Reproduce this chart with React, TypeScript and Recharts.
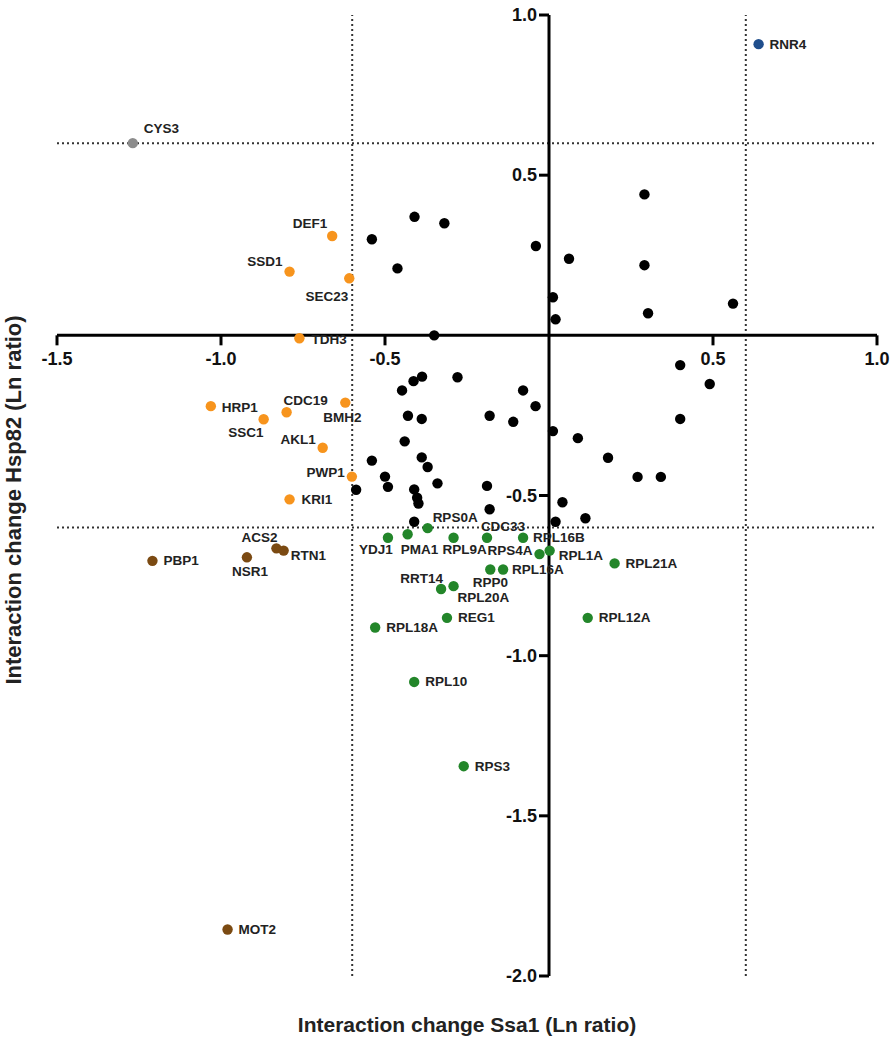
import { ScatterChart, Scatter, XAxis, YAxis, ReferenceLine, ReferenceDot } from 'recharts';

// unlabeled hits (black)
const blackX = [
  -0.54, -0.41, -0.319, -0.462, -0.04, 0.061, 0.012, 0.02, -0.35, -0.387, -0.413, -0.279, -0.448, -0.079,
  -0.041, -0.43, -0.388, -0.181, -0.109, 0.012, 0.088, -0.44, -0.388, -0.54, -0.37, -0.5, -0.491, -0.588,
  -0.34, -0.411, -0.402, -0.398, -0.189, -0.181, -0.411, 0.02, 0.041, 0.291, 0.291, 0.302, 0.561, 0.18,
  0.27, 0.341, 0.4, 0.49, 0.4, 0.111,
];
const blackY = [
  0.3, 0.37, 0.35, 0.209, 0.279, 0.239, 0.119, 0.05, 0.0, -0.129, -0.143, -0.131, -0.172, -0.172,
  -0.221, -0.251, -0.261, -0.251, -0.27, -0.299, -0.321, -0.331, -0.381, -0.391, -0.411, -0.441, -0.473, -0.482,
  -0.462, -0.481, -0.507, -0.525, -0.47, -0.543, -0.582, -0.582, -0.521, 0.44, 0.219, 0.069, 0.099, -0.382,
  -0.442, -0.442, -0.093, -0.152, -0.261, -0.571,
];

const orangeNames = ['DEF1', 'SSD1', 'SEC23', 'TDH3', 'HRP1', 'SSC1', 'CDC19', 'BMH2', 'AKL1', 'PWP1', 'KRI1'];
const orangeX = [-0.661, -0.791, -0.609, -0.761, -1.031, -0.87, -0.8, -0.621, -0.69, -0.601, -0.791];
const orangeY = [0.31, 0.199, 0.178, -0.009, -0.221, -0.262, -0.24, -0.21, -0.351, -0.441, -0.512];

const greenNames = [
  'YDJ1', 'PMA1', 'RPS0A', 'RPL9A', 'CDC33', 'RPL16B', 'RPS4A', 'RPL1A', 'RPP0', 'RPL16A', 'RRT14',
  'RPL20A', 'REG1', 'RPL18A', 'RPL10', 'RPL21A', 'RPL12A', 'RPS3',
];
const greenX = [
  -0.491, -0.431, -0.37, -0.291, -0.189, -0.079, -0.029, 0.002, -0.179, -0.14, -0.329,
  -0.291, -0.311, -0.53, -0.411, 0.2, 0.118, -0.26,
];
const greenY = [
  -0.632, -0.621, -0.602, -0.632, -0.632, -0.632, -0.683, -0.672, -0.731, -0.731, -0.792,
  -0.783, -0.882, -0.912, -1.082, -0.712, -0.882, -1.345,
];

const brownNames = ['PBP1', 'NSR1', 'ACS2', 'RTN1', 'MOT2'];
const brownX = [-1.209, -0.921, -0.831, -0.809, -0.98];
const brownY = [-0.704, -0.693, -0.665, -0.672, -1.855];

const grayNames = ['CYS3'];
const grayX = [-1.269];
const grayY = [0.6];

const blueNames = ['RNR4'];
const blueX = [0.639];
const blueY = [0.909];

const xTicks = [-1.5, -1.0, -0.5, 0.5, 1.0];
const yTicks = [1.0, 0.5, -0.5, -1.0, -1.5, -2.0];
const cutoffs = [-0.6, 0.6];

// where each gene name sits relative to its dot: dx, dy, anchor
const labelPos: Record<string, [number, number, 'start' | 'middle' | 'end']> = {
  DEF1: [-5, -13, 'end'],
  SSD1: [-7, -10, 'end'],
  SEC23: [-1, 18, 'end'],
  TDH3: [12, 1, 'start'],
  HRP1: [11, 1, 'start'],
  SSC1: [0, 13, 'end'],
  CDC19: [-3, -12, 'start'],
  BMH2: [-3, 15, 'middle'],
  AKL1: [-7, -8, 'end'],
  PWP1: [-7, -4, 'end'],
  KRI1: [12, 0, 'start'],
  CYS3: [11, -15, 'start'],
  RNR4: [11, 0, 'start'],
  PBP1: [11, 0, 'start'],
  NSR1: [3, 14, 'middle'],
  ACS2: [1, -11, 'end'],
  RTN1: [7, 5, 'start'],
  MOT2: [11, 0, 'start'],
  YDJ1: [-12, 12, 'middle'],
  PMA1: [12, 15, 'middle'],
  RPS0A: [5, -11, 'start'],
  RPL9A: [11, 12, 'middle'],
  CDC33: [16, -11, 'middle'],
  RPL16B: [10, 0, 'start'],
  RPS4A: [-7, -4, 'end'],
  RPL1A: [9, 5, 'start'],
  RPP0: [0, 13, 'middle'],
  RPL16A: [9, 0, 'start'],
  RRT14: [2, -11, 'end'],
  RPL20A: [4, 11, 'start'],
  REG1: [11, 0, 'start'],
  RPL18A: [11, 0, 'start'],
  RPL10: [11, 0, 'start'],
  RPL21A: [11, 0, 'start'],
  RPL12A: [11, 0, 'start'],
  RPS3: [11, 0, 'start'],
};

type Pt = { x: number; y: number; name?: string };

const toPoints = (xs: number[], ys: number[], names?: string[]): Pt[] =>
  xs.map((x, i) => ({ x, y: ys[i], name: names ? names[i] : undefined }));

const FONT = 'Arial, "Liberation Sans", Helvetica, sans-serif';

const makeDot = (color: string) => (props: any) => {
  const { cx, cy, payload } = props;
  const pos = payload.name ? labelPos[payload.name] : null;
  return (
    <g>
      <circle cx={cx} cy={cy} r={5.2} fill={color} />
      {pos && (
        <text
          x={cx + pos[0]}
          y={cy + pos[1]}
          textAnchor={pos[2]}
          dominantBaseline="central"
          fontFamily={FONT}
          fontWeight="bold"
          fontSize={13.5}
          fill="#222"
        >
          {payload.name}
        </text>
      )}
    </g>
  );
};

const XTick = (value: number) => (props: any) => {
  const { cx, cy } = props;
  return (
    <g>
      <line x1={cx} y1={cy} x2={cx} y2={cy + 10} stroke="#000" strokeWidth={3} />
      <text x={cx} y={cy + 24} textAnchor="middle" dominantBaseline="central" fontFamily={FONT} fontWeight="bold" fontSize={18} fill="#111">
        {value.toFixed(1)}
      </text>
    </g>
  );
};

const YTick = (value: number) => (props: any) => {
  const { cx, cy } = props;
  return (
    <g>
      <line x1={cx - 10} y1={cy} x2={cx} y2={cy} stroke="#000" strokeWidth={3} />
      <text x={cx - 12} y={cy} textAnchor="end" dominantBaseline="central" fontFamily={FONT} fontWeight="bold" fontSize={18} fill="#111">
        {value.toFixed(1)}
      </text>
    </g>
  );
};

export default function App() {
  return (
    <div style={{ position: 'absolute', left: 0, top: 0, width: 895, height: 1050, background: '#fff' }}>
      <ScatterChart width={895} height={1050} margin={{ top: 15, right: 18, bottom: 74, left: 57 }}>
        <XAxis type="number" dataKey="x" domain={[-1.5, 1]} hide />
        <YAxis type="number" dataKey="y" domain={[-2, 1]} hide />
        {cutoffs.map((c) => (
          <ReferenceLine key={`v${c}`} x={c} stroke="#333" strokeWidth={2} strokeDasharray="2 3" />
        ))}
        {cutoffs.map((c) => (
          <ReferenceLine key={`h${c}`} y={c} stroke="#333" strokeWidth={2} strokeDasharray="2 3" />
        ))}
        <ReferenceLine y={0} stroke="#000" strokeWidth={3} />
        <ReferenceLine x={0} stroke="#000" strokeWidth={3} />
        {xTicks.map((t) => (
          <ReferenceDot key={`xt${t}`} x={t} y={0} r={1} shape={XTick(t)} />
        ))}
        {yTicks.map((t) => (
          <ReferenceDot key={`yt${t}`} x={0} y={t} r={1} shape={YTick(t)} />
        ))}
        <Scatter data={toPoints(blackX, blackY)} shape={makeDot('#000')} isAnimationActive={false} />
        <Scatter data={toPoints(orangeX, orangeY, orangeNames)} shape={makeDot('#F7941D')} isAnimationActive={false} />
        <Scatter data={toPoints(greenX, greenY, greenNames)} shape={makeDot('#23862A')} isAnimationActive={false} />
        <Scatter data={toPoints(brownX, brownY, brownNames)} shape={makeDot('#7B4A12')} isAnimationActive={false} />
        <Scatter data={toPoints(grayX, grayY, grayNames)} shape={makeDot('#8C8C8C')} isAnimationActive={false} />
        <Scatter data={toPoints(blueX, blueY, blueNames)} shape={makeDot('#1F4E8C')} isAnimationActive={false} />
      </ScatterChart>
      <div
        style={{
          position: 'absolute',
          left: 0,
          top: 1013,
          width: 934,
          textAlign: 'center',
          fontFamily: FONT,
          fontWeight: 'bold',
          fontSize: 21,
          color: '#222',
          whiteSpace: 'nowrap',
        }}
      >
        Interaction change Ssa1 (Ln ratio)
      </div>
      <div
        style={{
          position: 'absolute',
          left: 14,
          top: 500,
          transform: 'translate(-50%, -50%) rotate(-90deg)',
          fontFamily: FONT,
          fontWeight: 'bold',
          fontSize: 22,
          color: '#222',
          whiteSpace: 'nowrap',
        }}
      >
        Interaction change Hsp82 (Ln ratio)
      </div>
    </div>
  );
}
